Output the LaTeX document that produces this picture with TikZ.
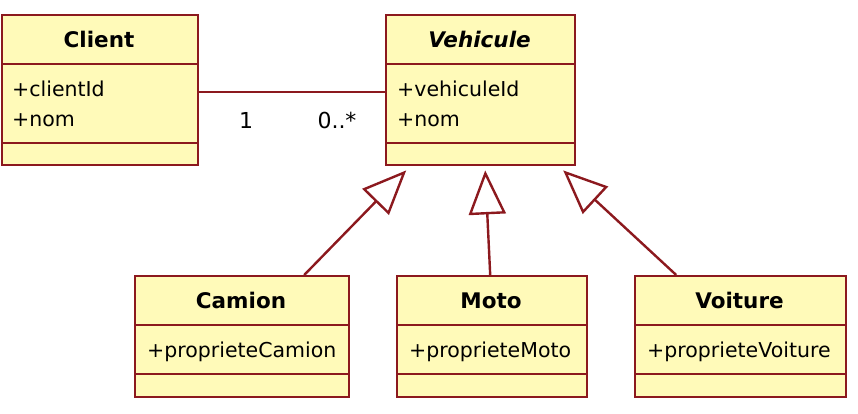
\documentclass[tikz,border=0pt]{standalone}
\usepackage{fontspec}
\setmainfont{DejaVu Sans}
\usetikzlibrary{arrows.meta,calc}
\definecolor{umlborder}{RGB}{140,25,30}
\definecolor{umlfill}{RGB}{255,250,185}
\tikzset{
  cls/.style={draw=umlborder, fill=umlfill, line width=2.4pt, rectangle, inner sep=0pt, anchor=north west},
  divider/.style={draw=umlborder, line width=2.4pt},
  title/.style={font=\fontsize{21.5}{24}\selectfont\bfseries, inner sep=0pt, anchor=base},
  attr/.style={font=\fontsize{20.5}{29}\selectfont, inner sep=0pt, anchor=base west},
  mult/.style={font=\fontsize{22}{24}\selectfont, inner sep=0pt, anchor=base},
  assoc/.style={draw=umlborder, line width=2.4pt},
  gen/.style={draw=umlborder, line width=2.4pt, -{Triangle[open, length=44pt, width=37pt, line width=2.4pt]}}
}
\begin{document}
\begin{tikzpicture}[x=1pt,y=-1pt]
\useasboundingbox (0,0) rectangle (858,414);
% Client
\node[cls, minimum width=196pt, minimum height=150pt] (client) at (1,14) {};
\draw[divider] (1,64) -- (197,64);
\draw[divider] (1,143) -- (197,143);
\node[title] (clientT) at (99,48) {Client};
\node[attr] (clientA1) at (12,97) {+clientId};
\node[attr] (clientA2) at (12,127) {+nom};
% Vehicule
\node[cls, minimum width=189pt, minimum height=150pt] (vehicule) at (385,14) {};
\draw[divider] (385,64) -- (574,64);
\draw[divider] (385,143) -- (574,143);
\node[title, font=\fontsize{21.5}{24}\selectfont\bfseries\itshape] (vehiculeT) at (479.5,48) {Vehicule};
\node[attr] (vehiculeA1) at (397,97) {+vehiculeId};
\node[attr] (vehiculeA2) at (397,127) {+nom};
% Camion
\node[cls, minimum width=214pt, minimum height=121pt] (camion) at (134,275) {};
\draw[divider] (134,325) -- (348,325);
\draw[divider] (134,374) -- (348,374);
\node[title] (camionT) at (241,308) {Camion};
\node[attr] (camionA) at (147,357) {+proprieteCamion};
% Moto
\node[cls, minimum width=190pt, minimum height=121pt] (moto) at (396,275) {};
\draw[divider] (396,325) -- (586,325);
\draw[divider] (396,374) -- (586,374);
\node[title] (motoT) at (491,308) {Moto};
\node[attr] (motoA) at (409,357) {+proprieteMoto};
% Voiture
\node[cls, minimum width=211pt, minimum height=121pt] (voiture) at (634,275) {};
\draw[divider] (634,325) -- (845,325);
\draw[divider] (634,374) -- (845,374);
\node[title] (voitureT) at (739.5,308) {Voiture};
\node[attr] (voitureA) at (647,357) {+proprieteVoiture};
% association
\draw[assoc] ([yshift=-78pt]client.north east) -- ([yshift=-78pt]vehicule.north west);
\node[mult] (m1) at (246,129) {1};
\node[mult] (m2) at (337,129) {0..*};
% generalizations
\draw[gen] ([xshift=62pt]camion.north) -- ([xshift=-74.5pt,yshift=-4pt]vehicule.south);
\draw[gen] ([xshift=-2pt]moto.north) -- ([xshift=4.5pt,yshift=-4pt]vehicule.south);
\draw[gen] ([xshift=-64.5pt]voiture.north) -- ([xshift=82.5pt,yshift=-4pt]vehicule.south);
\end{tikzpicture}
\end{document}
